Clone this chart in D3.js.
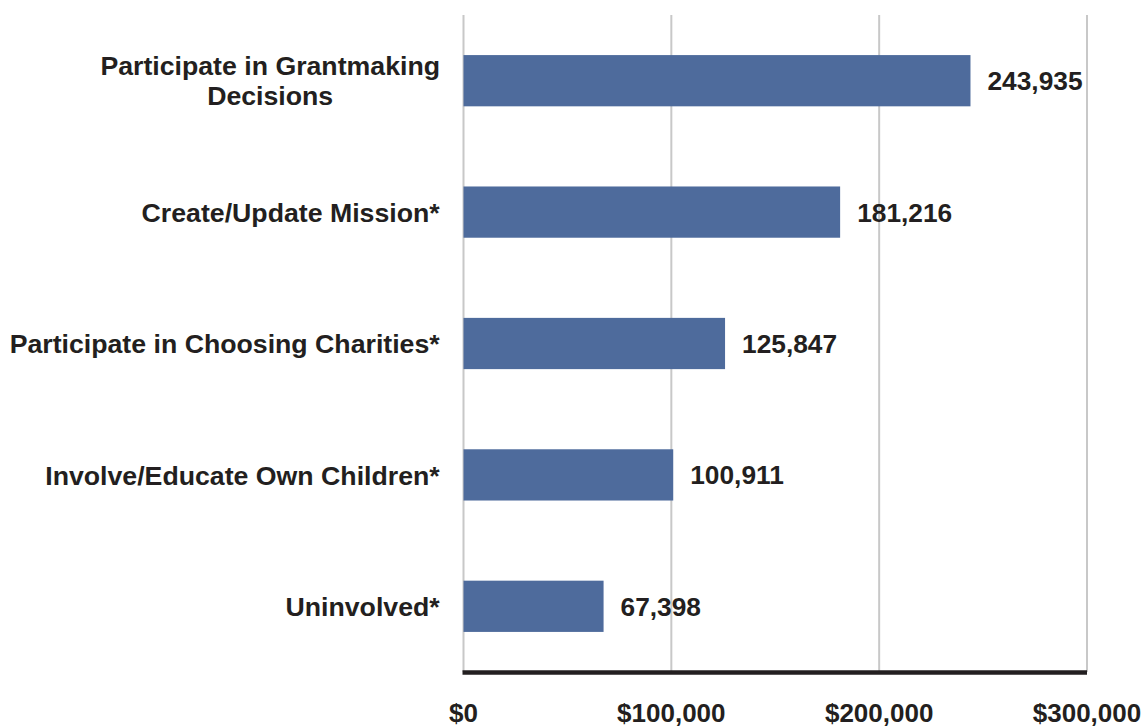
<!DOCTYPE html>
<html><head><meta charset="utf-8">
<script src="https://cdn.jsdelivr.net/npm/d3@7"></script>
<style>body{margin:0;background:#fff;} text{font-family:"Liberation Sans",Arial,sans-serif;font-weight:bold;fill:#231f20;}</style>
</head><body>
<svg id="c" width="1143" height="727"></svg>
<script>
const categories = [["Participate in Grantmaking","Decisions"],["Create/Update Mission*"],["Participate in Choosing Charities*"],["Involve/Educate Own Children*"],["Uninvolved*"]];
const values = [243935, 181216, 125847, 100911, 67398];
const tickValues = [0, 100000, 200000, 300000];

const svg = d3.select("#c");
const x = d3.scaleLinear().domain([0, 300000]).range([463.5, 1087]);
const y = d3.scaleBand().domain(d3.range(values.length)).range([15, 672]).paddingInner(0.61).paddingOuter(0.305);

svg.selectAll(".grid").data(tickValues).enter().append("line")
  .attr("x1", d => x(d)).attr("x2", d => x(d)).attr("y1", 15).attr("y2", 672)
  .attr("stroke", "#c8c8c8").attr("stroke-width", 2);

svg.selectAll(".bar").data(values).enter().append("rect")
  .attr("x", x(0)).attr("y", (d, i) => y(i)).attr("width", d => x(d) - x(0)).attr("height", y.bandwidth())
  .attr("fill", "#4e6b9c");

svg.append("line").attr("x1", x(0) - 1).attr("x2", x(300000)).attr("y1", 672.5).attr("y2", 672.5)
  .attr("stroke", "#231f20").attr("stroke-width", 4.5);

const fmt = d3.format("$,");
svg.selectAll(".tick").data(tickValues).enter().append("text")
  .attr("x", d => x(d)).attr("y", 722).attr("text-anchor", "middle").attr("font-size", 26)
  .text(d => fmt(d));

svg.selectAll(".val").data(values).enter().append("text")
  .attr("x", d => x(d) + 17).attr("y", (d, i) => y(i) + y.bandwidth() / 2).attr("dy", "0.36em")
  .attr("font-size", 26.3).text(d => d3.format(",")(d));

const lab = svg.selectAll(".cat").data(categories).enter().append("text")
  .attr("text-anchor", "middle").attr("font-size", 26.7)
  .attr("transform", (d, i) => `translate(0,${y(i) + y.bandwidth() / 2})`);
lab.each(function(d) {
  const t = d3.select(this);
  const n = d.length;
  d.forEach((line, j) => {
    t.append("tspan").attr("x", 0).attr("y", (j - (n - 1) / 2) * 30).attr("dy", "0.36em").text(line);
  });
});
lab.each(function(d) {
  const bb = this.getBBox();
  const cx = 440 - bb.width / 2;
  d3.select(this).selectAll("tspan").attr("x", cx);
});
</script>
</body></html>
